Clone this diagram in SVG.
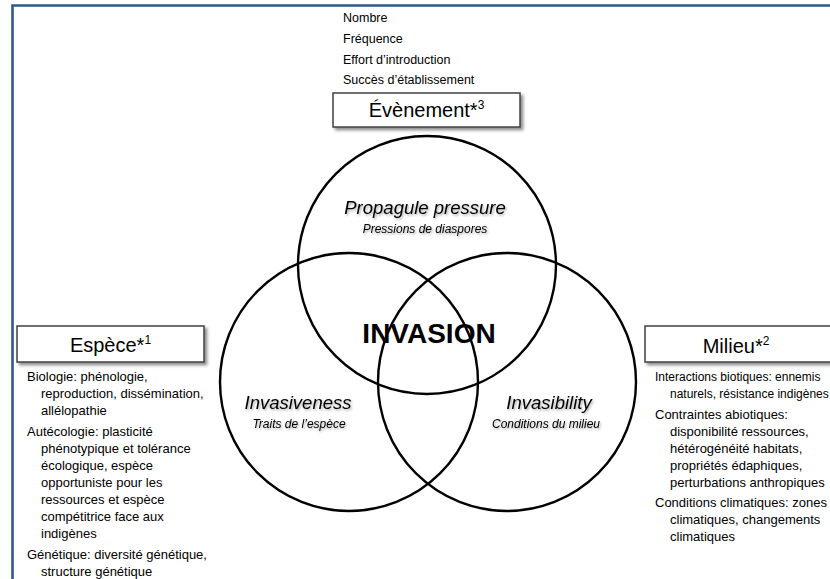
<svg xmlns="http://www.w3.org/2000/svg" width="830" height="579" viewBox="0 0 830 579">
<defs>
<filter id="boxShadow" x="-10%" y="-20%" width="130%" height="160%">
<feDropShadow dx="2.5" dy="2.5" stdDeviation="1.5" flood-color="#000" flood-opacity="0.45"/>
</filter>
<filter id="txtShadow" x="-10%" y="-30%" width="130%" height="180%">
<feDropShadow dx="1.2" dy="1.5" stdDeviation="1" flood-color="#000" flood-opacity="0.35"/>
</filter>
</defs>
<style>
.frame{stroke:#2e5a8c;stroke-width:2.6;fill:none}
.box{fill:#fff;stroke:#404040;stroke-width:1.5;filter:url(#boxShadow)}
.boxlabel{font-family:"Liberation Sans",Arial,sans-serif;font-size:20px;fill:#000;text-anchor:middle}
.list{font-family:"Liberation Sans",Arial,sans-serif;font-size:13px;fill:#000}
.narrow{font-size:12px}
.top{font-family:"Liberation Sans",Arial,sans-serif;font-size:12.5px;fill:#000}
.circ{fill:none;stroke:#000;stroke-width:2.4}
.title{font-family:"Liberation Sans",Arial,sans-serif;font-style:italic;font-size:18.5px;fill:#000;text-anchor:middle;filter:url(#txtShadow)}
.sub{font-family:"Liberation Sans",Arial,sans-serif;font-style:italic;font-size:12px;fill:#000;text-anchor:middle;filter:url(#txtShadow)}
.inv{font-family:"Liberation Sans",Arial,sans-serif;font-weight:bold;font-size:28px;fill:#000;text-anchor:middle}
</style>
<rect width="830" height="579" fill="#fff"/>
<path class="frame" d="M12.5 579 V5.5 H830"/>

<g id="circles">
<circle class="circ" cx="427" cy="265" r="129"/>
<circle class="circ" cx="349" cy="382" r="129"/>
<circle class="circ" cx="507" cy="382" r="129"/>
</g>

<g id="propagule">
<text class="title" x="425" y="214">Propagule pressure</text>
<text class="sub" x="425" y="233">Pressions de diaspores</text>
</g>
<g id="invasiveness">
<text class="title" x="298" y="409">Invasiveness</text>
<text class="sub" x="299" y="428">Traits de l’espèce</text>
</g>
<g id="invasibility">
<text class="title" x="549" y="409">Invasibility</text>
<text class="sub" x="546" y="428">Conditions du milieu</text>
</g>
<g id="invasion">
<text class="inv" x="429" y="343">INVASION</text>
</g>

<g id="evenement">
<text class="top" x="343" y="22">Nombre</text>
<text class="top" x="343" y="43">Fréquence</text>
<text class="top" x="343" y="64">Effort d’introduction</text>
<text class="top" x="343" y="84">Succès d’établissement</text>
<rect class="box" x="333" y="93" width="187" height="34"/>
<text class="boxlabel" x="426.5" y="117">Évènement*<tspan font-size="12" dy="-8">3</tspan></text>
</g>

<g id="espece">
<rect class="box" x="17" y="326" width="187" height="36"/>
<text class="boxlabel" x="110.5" y="352">Espèce*<tspan font-size="12" dy="-8">1</tspan></text>
<text class="list" x="27" y="381">Biologie: phénologie,</text>
<text class="list" x="41" y="398">reproduction, dissémination,</text>
<text class="list" x="41" y="415">allélopathie</text>
<text class="list" x="27" y="436">Autécologie: plasticité</text>
<text class="list" x="41" y="453">phénotypique et tolérance</text>
<text class="list" x="41" y="470">écologique, espèce</text>
<text class="list" x="41" y="487">opportuniste pour les</text>
<text class="list" x="41" y="504">ressources et espèce</text>
<text class="list" x="41" y="521">compétitrice face aux</text>
<text class="list" x="41" y="538">indigènes</text>
<text class="list" x="27" y="559">Génétique: diversité génétique,</text>
<text class="list" x="41" y="576">structure génétique</text>
</g>

<g id="milieu">
<rect class="box" x="645" y="326" width="200" height="36"/>
<text class="boxlabel" x="736" y="353">Milieu*<tspan font-size="12" dy="-8">2</tspan></text>
<text class="list narrow" x="655" y="381">Interactions biotiques: ennemis</text>
<text class="list narrow" x="670" y="398">naturels, résistance indigènes</text>
<text class="list" x="655" y="419">Contraintes abiotiques:</text>
<text class="list" x="670" y="436">disponibilité ressources,</text>
<text class="list" x="670" y="453">hétérogénéité habitats,</text>
<text class="list" x="670" y="470">propriétés édaphiques,</text>
<text class="list" x="670" y="487">perturbations anthropiques</text>
<text class="list" x="655" y="507">Conditions climatiques: zones</text>
<text class="list" x="670" y="524">climatiques, changements</text>
<text class="list" x="670" y="541">climatiques</text>
</g>
</svg>
